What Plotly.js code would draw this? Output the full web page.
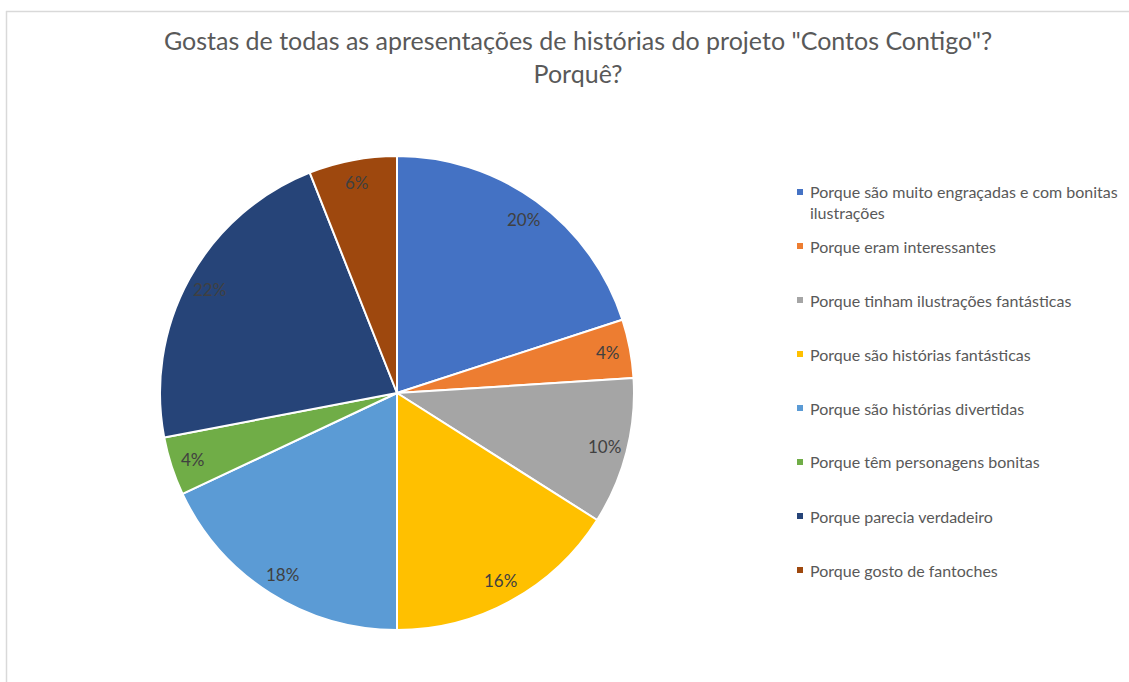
<!DOCTYPE html>
<html>
<head>
<meta charset="utf-8">
<script src="https://cdn.plot.ly/plotly-3.0.1.min.js"></script>
<style>html,body{margin:0;padding:0;background:#fff;}#chart{width:1129px;height:682px;}</style>
</head>
<body>
<div id="chart"></div>
<script>
const categories = [
  "Porque são muito engraçadas e com bonitas ilustrações",
  "Porque eram interessantes",
  "Porque tinham ilustrações fantásticas",
  "Porque são histórias fantásticas",
  "Porque são histórias divertidas",
  "Porque têm personagens bonitas",
  "Porque parecia verdadeiro",
  "Porque gosto de fantoches"
];
const percentages = [20, 4, 10, 16, 18, 4, 22, 6];
const colors = ["#4472C4", "#ED7D31", "#A5A5A5", "#FFC000", "#5B9BD5", "#70AD47", "#264478", "#9E480E"];
const titleLines = ['Gostas de todas as apresentações de histórias do projeto "Contos Contigo"?', 'Porquê?'];

const W = 1129, H = 682;
const cx = 397, cy = 393, R = 237;
const FONT = 'Lato, sans-serif';

function wrap(s, n) {
  if (s.length <= n) return [s];
  const i = s.lastIndexOf(' ', n);
  return [s.slice(0, i), s.slice(i + 1)];
}

const total = percentages.reduce((a, b) => a + b, 0);
let cum = 0;
const annotations = percentages.map(v => {
  const mid = (cum + v / 2) / total;
  cum += v;
  const th = 2 * Math.PI * mid;
  const rl = 0.905 * R;
  const px = cx + rl * Math.sin(th);
  const py = cy - rl * Math.cos(th);
  return {
    x: px / W, y: 1 - py / H, xref: 'paper', yref: 'paper',
    xanchor: 'center', yanchor: 'middle',
    text: Math.round(v / total * 100) + '%', showarrow: false,
    font: {family: FONT, size: 17, color: '#404040'}
  };
});

// legend (drawn as text + square markers, one entry per category)
const legFont = 16, legLineH = 20, legTop = 192, legStep = 54;
const shapes = [
  {type: 'line', xref: 'paper', yref: 'paper', x0: 6 / W, x1: 1, y0: 1 - 11.5 / H, y1: 1 - 11.5 / H, line: {color: '#d9d9d9', width: 1.5}},
  {type: 'line', xref: 'paper', yref: 'paper', x0: 6.5 / W, x1: 6.5 / W, y0: 0, y1: 1 - 11 / H, line: {color: '#d9d9d9', width: 1.5}}
];
categories.forEach((c, i) => {
  const lines = wrap(c, 42);
  const y0 = legTop + legStep * i;
  const yc = y0 + (lines.length - 1) * legLineH / 2;
  annotations.push({
    x: 808 / W, y: 1 - yc / H, xref: 'paper', yref: 'paper',
    xanchor: 'left', yanchor: 'middle', align: 'left',
    text: lines.join('<br>'), showarrow: false,
    font: {family: FONT, size: legFont, color: '#595959'}
  });
  shapes.push({
    type: 'rect', xref: 'paper', yref: 'paper',
    x0: 797 / W, x1: 803 / W, y0: 1 - (y0 + 3) / H, y1: 1 - (y0 - 3) / H,
    fillcolor: colors[i], line: {width: 0}
  });
});

const data = [{
  type: 'pie',
  labels: categories,
  values: percentages,
  sort: false,
  direction: 'clockwise',
  rotation: 0,
  textinfo: 'none',
  hoverinfo: 'label+percent',
  marker: {colors: colors, line: {color: '#ffffff', width: 2}},
  domain: {x: [(cx - R) / W, (cx + R) / W], y: [1 - (cy + R) / H, 1 - (cy - R) / H]}
}];

const layout = {
  width: W, height: H,
  margin: {l: 0, r: 0, t: 0, b: 0},
  paper_bgcolor: '#ffffff',
  title: {
    text: titleLines.join('<br>'),
    x: 578 / W, xanchor: 'center',
    y: 1 - 50 / H, yanchor: 'top',
    font: {family: FONT, size: 25, color: '#595959'}
  },
  showlegend: false,
  annotations: annotations,
  shapes: shapes
};

Plotly.newPlot('chart', data, layout, {displayModeBar: false});
</script>
</body>
</html>
